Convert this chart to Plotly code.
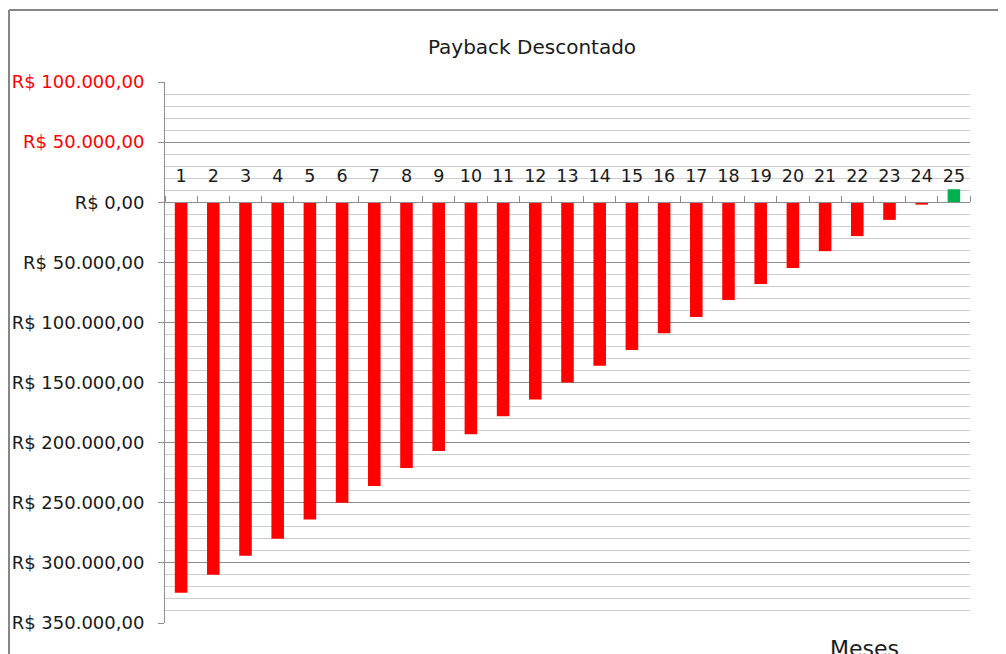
import plotly.graph_objects as go

# Data: saldo acumulado descontado por mês (positivo = ainda a recuperar)
meses = [str(i) for i in range(1, 26)]
saldo = [324800, 309800, 294000, 280000, 264000, 250000, 236000, 221000, 207000,
         193000, 178000, 164000, 150000, 136000, 123000, 109000, 95500, 81400,
         68100, 54800, 40700, 28200, 14700, 2000, -10800]
tick_vals = [-100000, -50000, 0, 50000, 100000, 150000, 200000, 250000, 300000, 350000]


def brl(v):
    s = f"{abs(v):,.2f}".replace(",", "X").replace(".", ",").replace("X", ".")
    txt = f"R$ {s}"
    if v < 0:
        return f'<span style="color:#FF0000">{txt}</span>'
    return txt


tick_text = [brl(v) for v in tick_vals]
colors = ["#FF0000" if v > 0 else "#00B050" for v in saldo]

fig = go.Figure(go.Bar(x=meses, y=saldo, marker=dict(color=colors, line=dict(width=0)),
                       width=0.39))

FONT = "DejaVu Sans"
W, H = 998, 646
L, R, T, B = 157, 36, 74, 31
PW, PH = W - L - R, H - T - B

fig.update_layout(
    width=W, height=H,
    margin=dict(l=L, r=R, t=T, b=B, autoexpand=False),
    paper_bgcolor="white", plot_bgcolor="white",
    showlegend=False,
    font=dict(family=FONT, color="#1a1a1a", size=17),
    title=dict(text="Payback Descontado", x=524 / W, xanchor="center", y=1 - 39 / H,
               yanchor="middle", font=dict(size=20, family=FONT, color="#1a1a1a")),
)

fig.update_yaxes(
    range=[350000, -100000],
    tickvals=tick_vals, ticktext=tick_text,
    showgrid=True, gridcolor="#8e8e8e", gridwidth=1,
    minor=dict(dtick=10000, tick0=0, showgrid=True, gridcolor="#cdcdcd", gridwidth=1),
    showline=True, linecolor="#8e8e8e", linewidth=1,
    ticks="outside", ticklen=6, tickcolor="#8e8e8e",
    ticklabelstandoff=10, automargin=False,
    zeroline=False,
    tickfont=dict(size=18, family=FONT, color="#1a1a1a"),
)

fig.update_xaxes(
    type="category",
    anchor="free", position=350000 / 450000, side="top",
    showline=True, linecolor="#8e8e8e", linewidth=1,
    ticks="outside", ticklen=6, tickcolor="#8e8e8e", tickson="boundaries",
    showgrid=False, zeroline=False, automargin=False,
    ticklabelstandoff=13, tickangle=0,
    tickfont=dict(size=17.5, family=FONT, color="#1a1a1a"),
)

# outer chart border (left and top edges visible)
bx = (1 - L) / PW
by = (H - B - 2) / PH
fig.add_shape(type="line", xref="paper", yref="paper",
              x0=bx, x1=bx, y0=by, y1=-0.2,
              line=dict(color="#868686", width=2))
fig.add_shape(type="line", xref="paper", yref="paper",
              x0=bx, x1=1.2, y0=by, y1=by,
              line=dict(color="#868686", width=2))

fig.add_annotation(text="Meses", xref="paper", yref="paper",
                   x=(856 - L) / PW, y=(H - B - 626) / PH, xanchor="center", yanchor="top",
                   showarrow=False, font=dict(size=22, family=FONT, color="#1a1a1a"))

fig.write_html("out.html")
